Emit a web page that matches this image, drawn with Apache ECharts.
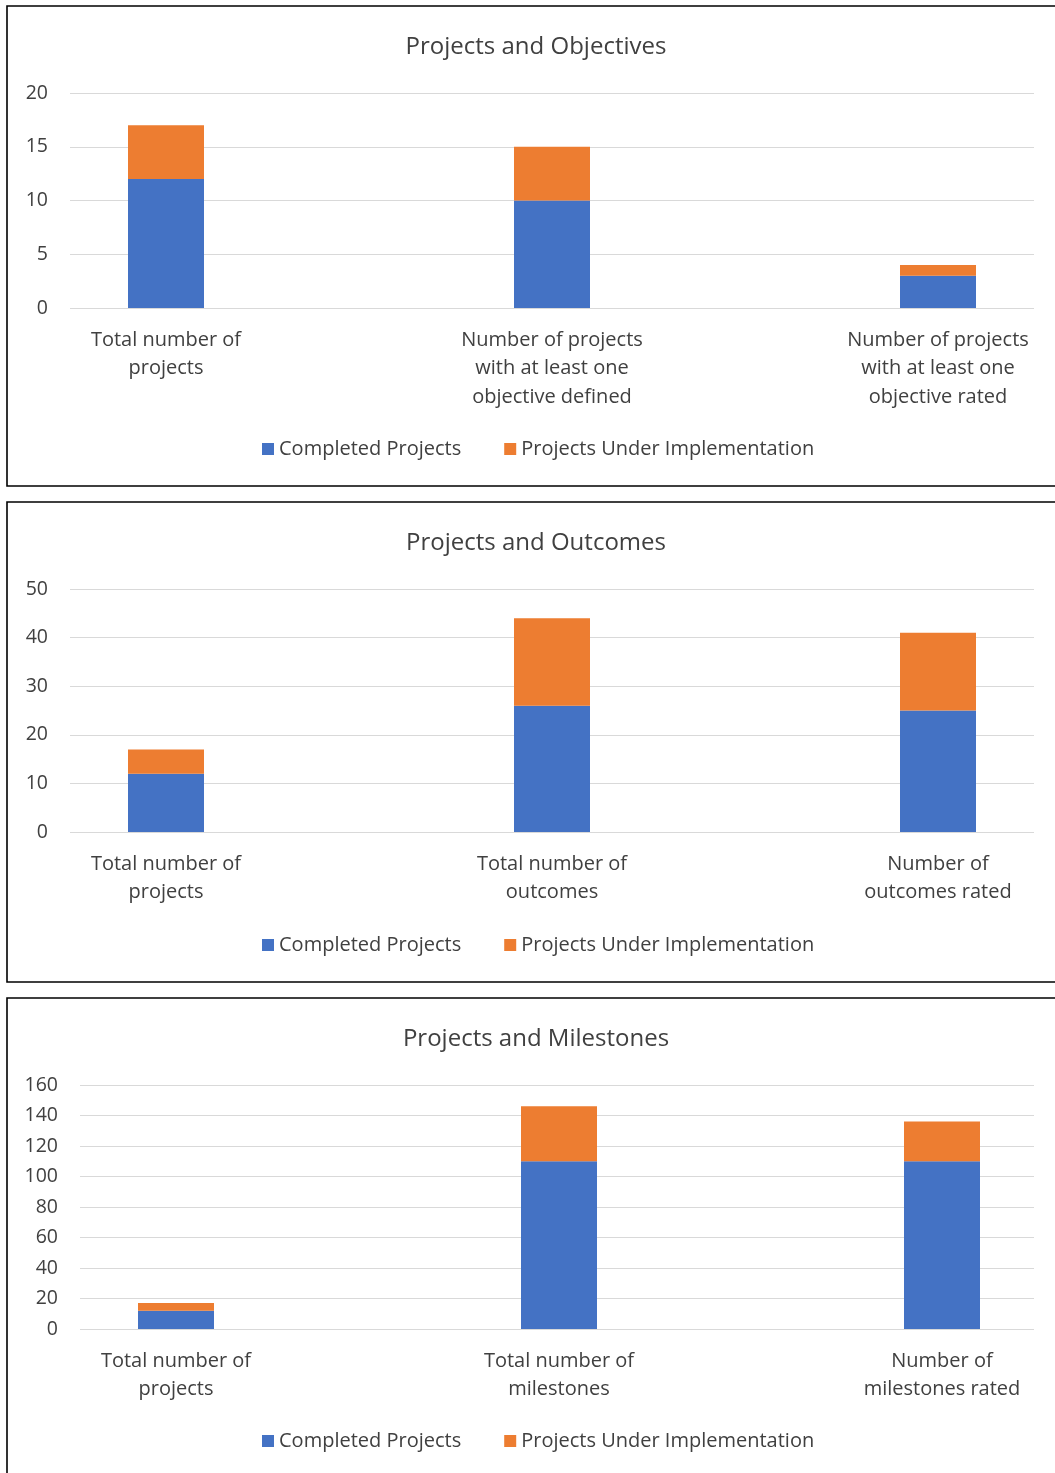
<!DOCTYPE html>
<html>
<head>
<meta charset="utf-8">
<script src="https://cdn.jsdelivr.net/npm/echarts@6/dist/echarts.min.js"></script>
<style>
html,body{margin:0;padding:0;background:#fff;overflow:hidden;}
#wrap{position:relative;width:1055px;height:1473px;overflow:hidden;}
#c{position:absolute;left:-40px;top:0;width:1200px;height:1473px;}
</style>
</head>
<body>
<div id="wrap"><div id="c"></div></div>
<script>
// ---- data ----
const seriesNames = ['Completed Projects', 'Projects Under Implementation'];
const titles = ['Projects and Objectives', 'Projects and Outcomes', 'Projects and Milestones'];

const cats1 = ['Total number of\nprojects', 'Number of projects\nwith at least one\nobjective defined', 'Number of projects\nwith at least one\nobjective rated'];
const completed1 = [12, 10, 3];
const underImpl1 = [5, 5, 1];
const yTicks1 = [0, 5, 10, 15, 20];

const cats2 = ['Total number of\nprojects', 'Total number of\noutcomes', 'Number of\noutcomes rated'];
const completed2 = [12, 26, 25];
const underImpl2 = [5, 18, 16];
const yTicks2 = [0, 10, 20, 30, 40, 50];

const cats3 = ['Total number of\nprojects', 'Total number of\nmilestones', 'Number of\nmilestones rated'];
const completed3 = [12, 110, 110];
const underImpl3 = [5, 36, 26];
const yTicks3 = [0, 20, 40, 60, 80, 100, 120, 140, 160];

// ---- layout ----
const OX = 40; // chart canvas is shifted left by OX px
const FONT = '"Open Sans", "Noto Sans", sans-serif';
const TXT = '#404040';
const BLUE = '#4472C4';
const ORANGE = '#ED7D31';
const GRIDC = '#d9d9d9';

const panels = [
  {cats: cats1, a: completed1, b: underImpl1, ticks: yTicks1, top: 6, bottom: 486,
   axisLeft: 70, gridTop: 93, gridH: 215, barLeft: -27, barW: 1158, titleY: 47, legendY: 449},
  {cats: cats2, a: completed2, b: underImpl2, ticks: yTicks2, top: 502, bottom: 982,
   axisLeft: 70, gridTop: 589, gridH: 243, barLeft: -27, barW: 1158, titleY: 543, legendY: 945},
  {cats: cats3, a: completed3, b: underImpl3, ticks: yTicks3, top: 998, bottom: 1490,
   axisLeft: 80, gridTop: 1085, gridH: 244, barLeft: -15.5, barW: 1149, titleY: 1039, legendY: 1441}
];

const grid = [], xAxis = [], yAxis = [], series = [], legend = [], graphic = [];

panels.forEach((p, i) => {
  const gA = 2 * i, gB = 2 * i + 1;
  const minV = p.ticks[0], maxV = p.ticks[p.ticks.length - 1];
  const step = p.ticks[1] - p.ticks[0];
  grid.push({left: p.axisLeft + OX, width: 1034 - p.axisLeft, top: p.gridTop, height: p.gridH});
  grid.push({left: p.barLeft + OX, width: p.barW, top: p.gridTop, height: p.gridH});

  // axis-only grid (gridlines and y labels)
  xAxis.push({gridIndex: gA, type: 'value', min: 0, max: 1, show: false});
  yAxis.push({gridIndex: gA, type: 'value', min: minV, max: maxV, interval: step,
    axisLine: {show: false}, axisTick: {show: false},
    axisLabel: {color: TXT, fontFamily: FONT, fontSize: 19.5, margin: 22, padding: [4, 0, 0, 0]},
    splitLine: {lineStyle: {color: GRIDC, width: 1}}});

  // bar grid
  xAxis.push({gridIndex: gB, type: 'category', data: p.cats,
    axisLine: {show: false}, axisTick: {show: false},
    axisLabel: {color: TXT, fontFamily: FONT, fontSize: 20, lineHeight: 28.5, margin: 18, interval: 0}});
  yAxis.push({gridIndex: gB, type: 'value', min: minV, max: maxV, interval: step, show: false,
    splitLine: {show: false}});

  series.push({type: 'bar', name: seriesNames[0], xAxisIndex: gB, yAxisIndex: gB, stack: 's' + i,
    data: p.a, barWidth: 76, itemStyle: {color: BLUE}});
  series.push({type: 'bar', name: seriesNames[1], xAxisIndex: gB, yAxisIndex: gB, stack: 's' + i,
    data: p.b, barWidth: 76, itemStyle: {color: ORANGE}});

  legend.push({data: seriesNames, left: 262 + OX, top: p.legendY - 10, padding: 0,
    itemWidth: 12, itemHeight: 12, itemGap: 43, icon: 'rect',
    textStyle: {color: TXT, fontFamily: FONT, fontSize: 20}});

  graphic.push({type: 'rect', shape: {x: 7 + OX, y: p.top, width: 1100, height: p.bottom - p.top},
    style: {fill: 'none', stroke: '#000', lineWidth: 1.6}, silent: true, z: 100});
  graphic.push({type: 'text', x: 536 + OX, y: p.titleY,
    style: {text: titles[i], fill: TXT, font: '24px ' + FONT, textAlign: 'center', textVerticalAlign: 'middle'}});
});

const chart = echarts.init(document.getElementById('c'), null, {renderer: 'canvas'});
chart.setOption({
  animation: false,
  backgroundColor: '#fff',
  grid, xAxis, yAxis, series, legend, graphic
});
</script>
</body>
</html>
